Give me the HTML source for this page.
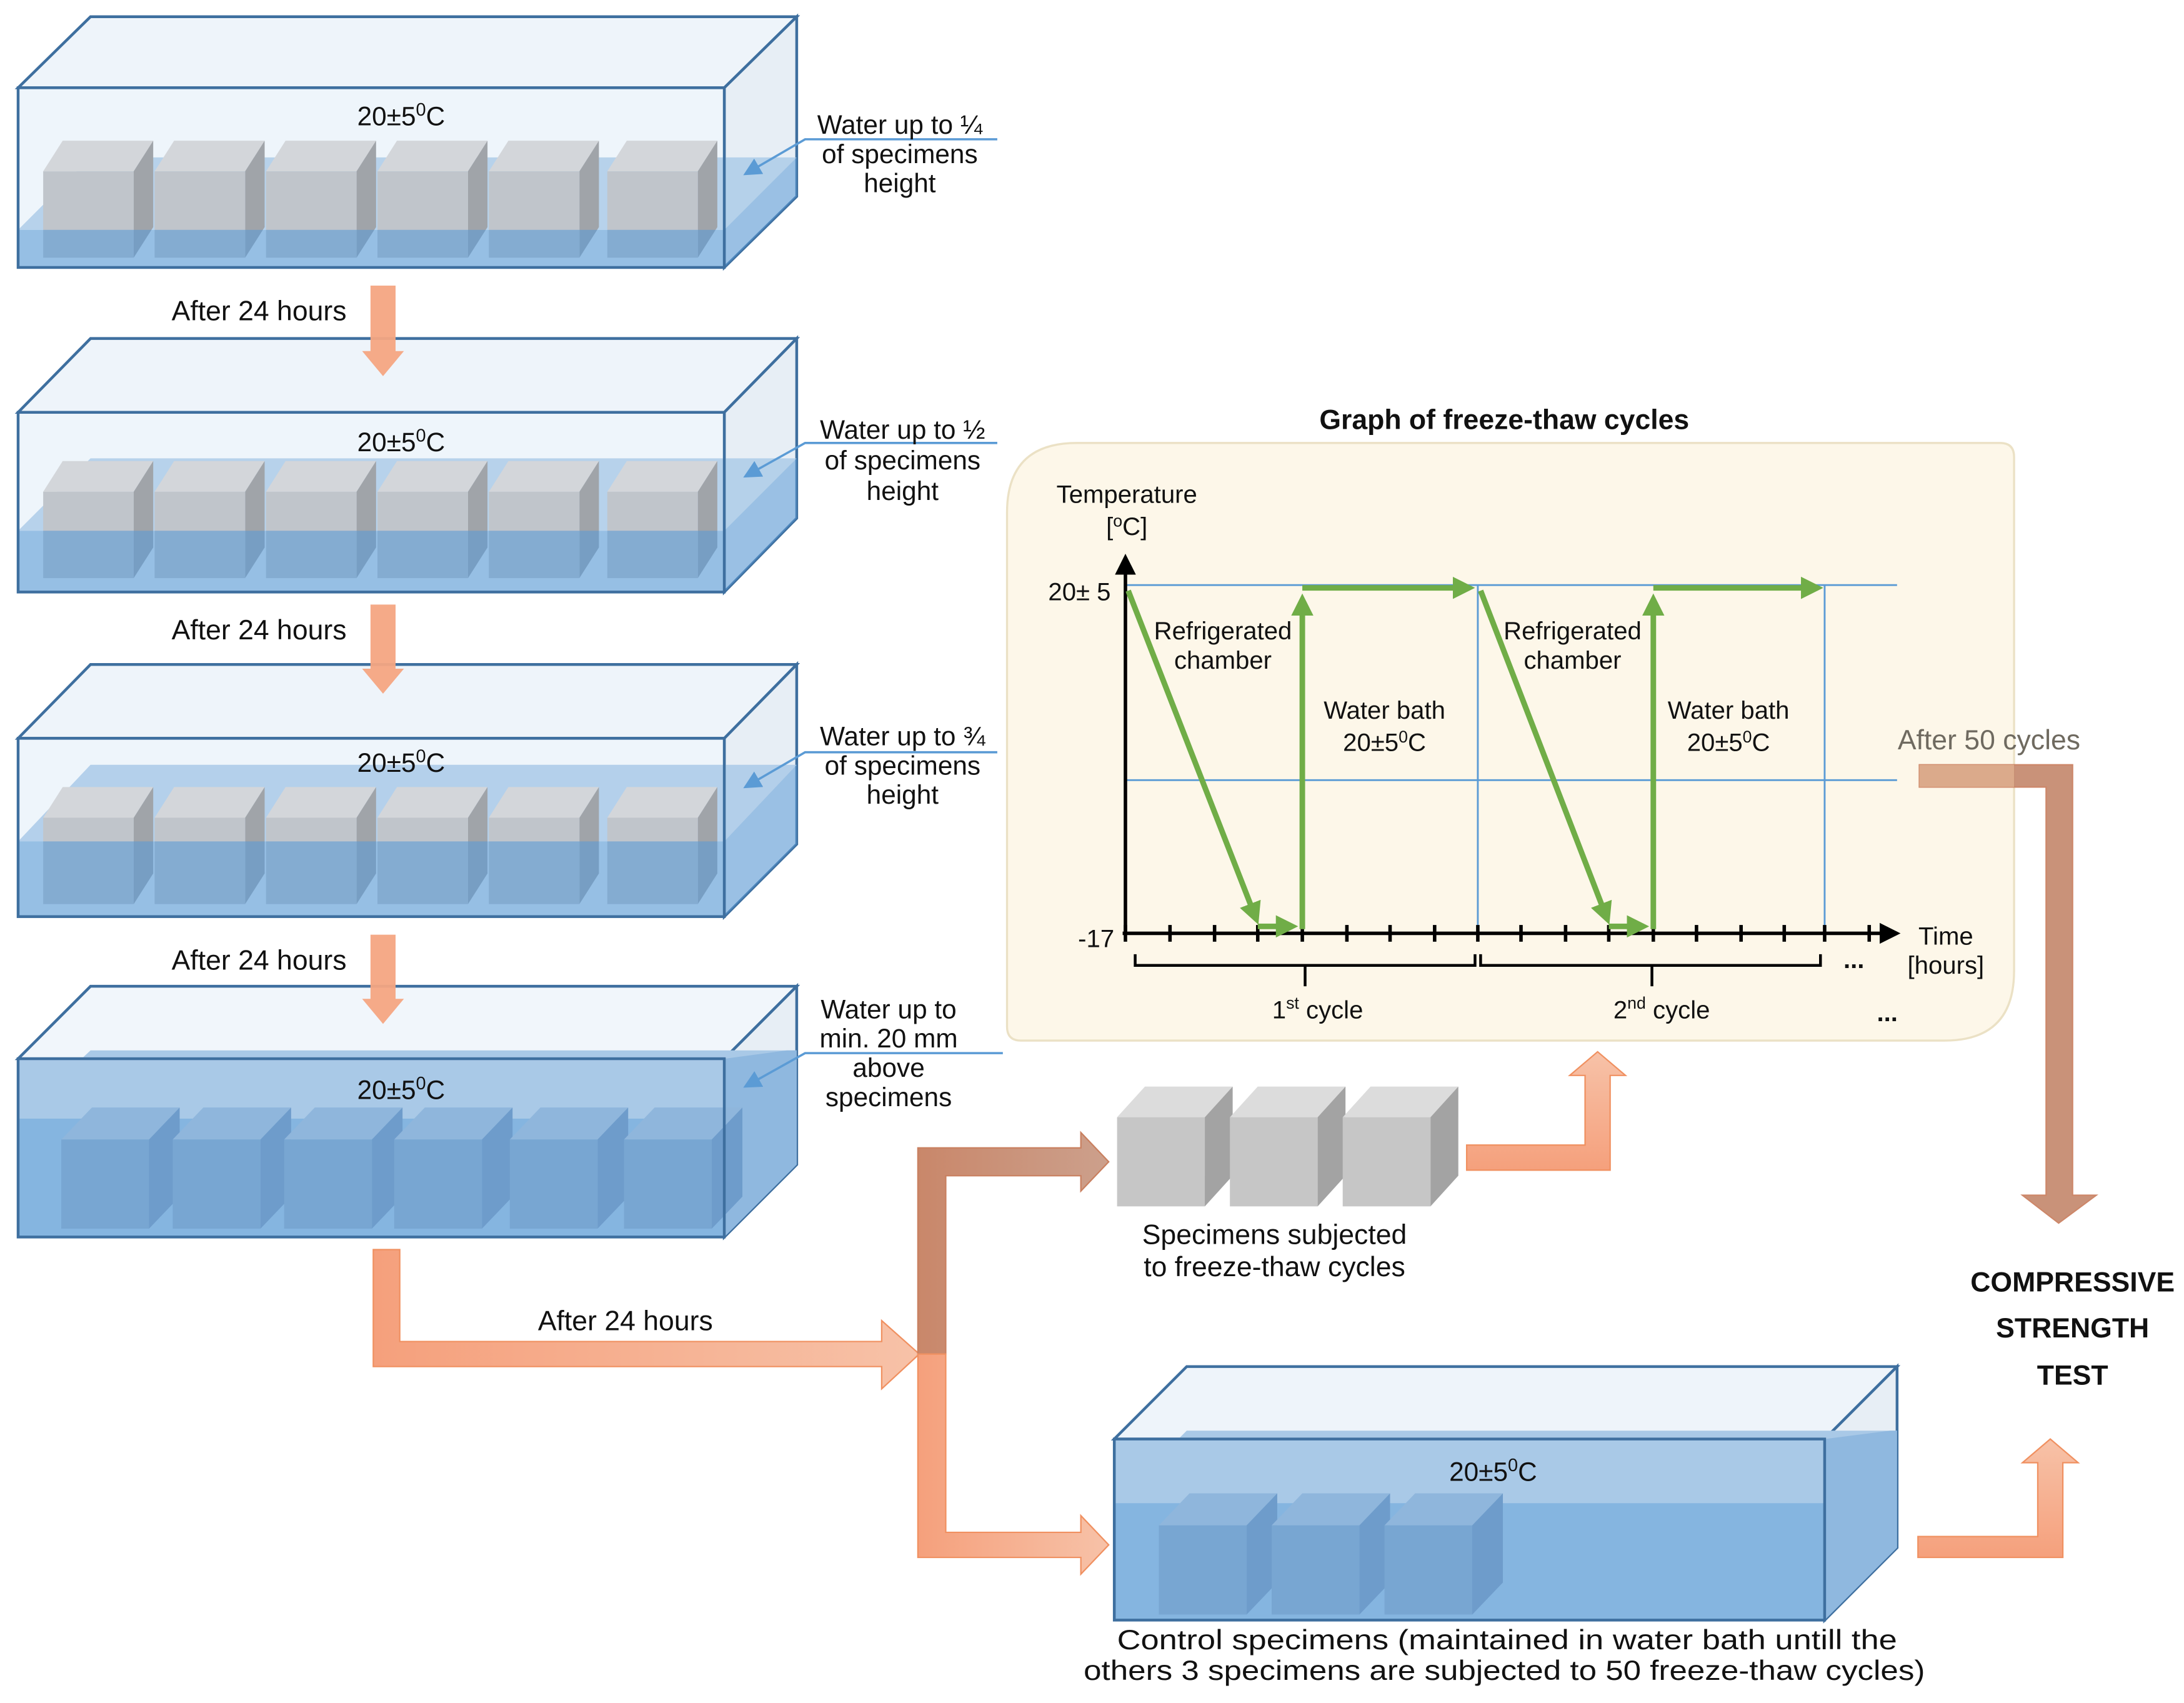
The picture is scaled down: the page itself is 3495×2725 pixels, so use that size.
<!DOCTYPE html>
<html><head><meta charset="utf-8"><style>
html,body{margin:0;padding:0;background:#fff;}
svg{display:block;}
text{font-family:"Liberation Sans",sans-serif;fill:#111;}
</style></head><body>
<svg width="3495" height="2725" viewBox="0 0 1568 1222.5" preserveAspectRatio="none" xmlns="http://www.w3.org/2000/svg">
<defs>
<g id="cube">
<polygon points="0,0 14,-22 79,-22 65,0" fill="#d3d6da"/>
<polygon points="65,0 79,-22 79,40 65,62" fill="#a0a4a9"/>
<rect x="0" y="0" width="65" height="62" fill="#c0c5cb"/>
</g>
<g id="gcube">
<polygon points="0,0 20,-22 83,-22 63,0" fill="#dcdcdc"/>
<polygon points="63,0 83,-22 83,42 63,64" fill="#a3a3a3"/>
<rect x="0" y="0" width="63" height="64" fill="#c6c6c6"/>
</g>
<g id="bcube">
<polygon points="0,0 22,-23 85,-23 63,0" fill="#8fb6dc"/>
<polygon points="63,0 85,-23 85,41 63,64" fill="#6e9ccb"/>
<rect x="0" y="0" width="63" height="64" fill="#78a6d2"/>
</g>
<linearGradient id="og" x1="0" y1="0" x2="1" y2="0"><stop offset="0" stop-color="#f5a07c"/><stop offset="1" stop-color="#f7c2a8"/></linearGradient>
<linearGradient id="ogv" x1="0" y1="1" x2="0" y2="0"><stop offset="0" stop-color="#f5a07c"/><stop offset="1" stop-color="#f7c2a8"/></linearGradient>
<linearGradient id="bg" x1="0" y1="0" x2="1" y2="0"><stop offset="0" stop-color="#c9876a"/><stop offset="1" stop-color="#cca08c"/></linearGradient>
<marker id="ga" markerWidth="4" markerHeight="4" refX="3" refY="2" orient="auto" markerUnits="strokeWidth"><path d="M0,0 L4,2 L0,4 Z" fill="#70ad47"/></marker>
<marker id="ka" markerWidth="6" markerHeight="6" refX="5" refY="3" orient="auto" markerUnits="strokeWidth"><path d="M0,0 L6,3 L0,6 Z" fill="#000"/></marker>
<marker id="la" markerWidth="8" markerHeight="8" refX="7" refY="4" orient="auto" markerUnits="strokeWidth"><path d="M0,0 L8,4 L0,8 Z" fill="#5b9bd5"/></marker>
</defs>

<!-- TANK 1 -->
<g>
<polygon points="13,63 65,12 572,12 520,63" fill="#eef4fa" stroke="#3e6f9f" stroke-width="2"/>
<polygon points="520,63 572,12 572,141 520,192" fill="#e7eef5" stroke="#3e6f9f" stroke-width="2"/>
<rect x="13" y="63" width="507" height="129" fill="#eef5fb"/>
<polygon points="13,165 65,113 572,113 520,165" fill="#a9c9e7" opacity="0.8"/>
<use href="#cube" x="31" y="123"/><use href="#cube" x="111" y="123"/><use href="#cube" x="191" y="123"/><use href="#cube" x="271" y="123"/><use href="#cube" x="351" y="123"/><use href="#cube" x="436" y="123"/>
<rect x="13" y="165" width="507" height="27" fill="#5b9bd5" opacity="0.6"/>
<polygon points="520,165 572,113 572,141 520,192" fill="#5b9bd5" opacity="0.55"/>
<rect x="13" y="63" width="507" height="129" fill="none" stroke="#3e6f9f" stroke-width="2"/>
<text x="288" y="90" font-size="19" text-anchor="middle">20±5<tspan font-size="13" dy="-7">0</tspan><tspan dy="7">C</tspan></text>
</g>
<!-- TANK 2 -->
<g>
<polygon points="13,296 65,243 572,243 520,296" fill="#eef4fa" stroke="#3e6f9f" stroke-width="2"/>
<polygon points="520,296 572,243 572,372 520,425" fill="#e7eef5" stroke="#3e6f9f" stroke-width="2"/>
<rect x="13" y="296" width="507" height="129" fill="#eef5fb"/>
<polygon points="13,381 65,329 572,329 520,381" fill="#a9c9e7" opacity="0.8"/>
<use href="#cube" x="31" y="353"/><use href="#cube" x="111" y="353"/><use href="#cube" x="191" y="353"/><use href="#cube" x="271" y="353"/><use href="#cube" x="351" y="353"/><use href="#cube" x="436" y="353"/>
<rect x="13" y="381" width="507" height="44" fill="#5b9bd5" opacity="0.6"/>
<polygon points="520,381 572,329 572,372 520,425" fill="#5b9bd5" opacity="0.55"/>
<rect x="13" y="296" width="507" height="129" fill="none" stroke="#3e6f9f" stroke-width="2"/>
<text x="288" y="324" font-size="19" text-anchor="middle">20±5<tspan font-size="13" dy="-7">0</tspan><tspan dy="7">C</tspan></text>
</g>
<!-- TANK 3 -->
<g>
<polygon points="13,530 65,477 572,477 520,530" fill="#eef4fa" stroke="#3e6f9f" stroke-width="2"/>
<polygon points="520,530 572,477 572,606 520,658" fill="#e7eef5" stroke="#3e6f9f" stroke-width="2"/>
<rect x="13" y="530" width="507" height="128" fill="#eef5fb"/>
<polygon points="13,604 65,549 572,549 520,604" fill="#a9c9e7" opacity="0.85"/>
<use href="#cube" x="31" y="587"/><use href="#cube" x="111" y="587"/><use href="#cube" x="191" y="587"/><use href="#cube" x="271" y="587"/><use href="#cube" x="351" y="587"/><use href="#cube" x="436" y="587"/>
<rect x="13" y="604" width="507" height="54" fill="#5b9bd5" opacity="0.6"/>
<polygon points="520,604 572,549 572,606 520,658" fill="#5b9bd5" opacity="0.55"/>
<rect x="13" y="530" width="507" height="128" fill="none" stroke="#3e6f9f" stroke-width="2"/>
<text x="288" y="554" font-size="19" text-anchor="middle">20±5<tspan font-size="13" dy="-7">0</tspan><tspan dy="7">C</tspan></text>
</g>
<!-- TANK 4 -->
<g>
<polygon points="13,760 65,708 572,708 520,760" fill="#f1f6fb" stroke="#3e6f9f" stroke-width="2"/>
<polygon points="520,760 572,708 572,836 520,888" fill="#e7eef5" stroke="#3e6f9f" stroke-width="2"/>
<rect x="13" y="760" width="507" height="128" fill="#eef5fb"/>
<polygon points="13,803 65,754 572,754 520,803" fill="#a9c9e7"/>
<rect x="13" y="760" width="507" height="43" fill="#a9c9e7"/>
<polygon points="520,760 565,754 572,754 572,836 520,888" fill="#8fb8df"/>
<rect x="13" y="803" width="507" height="85" fill="#85b5e0"/>
<use href="#bcube" x="44" y="818"/><use href="#bcube" x="124" y="818"/><use href="#bcube" x="204" y="818"/><use href="#bcube" x="283" y="818"/><use href="#bcube" x="366" y="818"/><use href="#bcube" x="448" y="818"/>
<rect x="13" y="760" width="507" height="128" fill="none" stroke="#3e6f9f" stroke-width="2"/>
<text x="288" y="789" font-size="19" text-anchor="middle">20±5<tspan font-size="13" dy="-7">0</tspan><tspan dy="7">C</tspan></text>
</g>

<!-- leader labels -->
<g stroke="#5b9bd5" stroke-width="1.6" fill="none">
<polyline points="716,100 578,100 535,125" marker-end="url(#la)"/>
<polyline points="716,318 578,318 535,342" marker-end="url(#la)"/>
<polyline points="716,540 578,540 535,565" marker-end="url(#la)"/>
<polyline points="720,756 578,756 535,780" marker-end="url(#la)"/>
</g>
<g font-size="19" text-anchor="middle">
<text x="646" y="96">Water up to ¼</text><text x="646" y="117">of specimens</text><text x="646" y="138">height</text>
<text x="648" y="315">Water up to ½</text><text x="648" y="337">of specimens</text><text x="648" y="359">height</text>
<text x="648" y="535">Water up to ¾</text><text x="648" y="556">of specimens</text><text x="648" y="577">height</text>
<text x="638" y="731">Water up to</text><text x="638" y="752">min. 20 mm</text><text x="638" y="773">above</text><text x="638" y="794">specimens</text>
<text x="186" y="230" font-size="20">After 24 hours</text>
<text x="186" y="459" font-size="20">After 24 hours</text>
<text x="186" y="696" font-size="20">After 24 hours</text>
<text x="449" y="955" font-size="20">After 24 hours</text>
</g>

<!-- down arrows -->
<g fill="#f4a582" opacity="0.95">
<polygon points="266,205 284,205 284,252 290,252 275,270 260,252 266,252"/>
<polygon points="266,434 284,434 284,480 290,480 275,498 260,480 266,480"/>
<polygon points="266,671 284,671 284,717 290,717 275,735 260,717 266,717"/>
</g>
<!-- big elbow arrow -->
<polygon points="268,897 287,897 287,963 633,963 633,948 660,972 633,997 633,981 268,981" fill="url(#og)" stroke="#f09060" stroke-width="1"/>
<!-- splitter -->
<polygon points="659,972 659,824 776,824 776,813 796,834 776,855 776,844 679,844 679,972" fill="url(#bg)" stroke="#c98060" stroke-width="1"/>
<polygon points="659,972 679,972 679,1100 776,1100 776,1088 796,1109 776,1130 776,1118 659,1118" fill="url(#og)" stroke="#f09060" stroke-width="1"/>
<!-- gray cubes -->
<use href="#gcube" x="802" y="802"/><use href="#gcube" x="883" y="802"/><use href="#gcube" x="964" y="802"/>
<g text-anchor="middle" font-size="20">
<text x="915" y="893">Specimens subjected</text>
<text x="915" y="916">to freeze-thaw cycles</text>
</g>
<!-- cubes to graph arrow -->
<polygon points="1053,822 1138,822 1138,772 1127,772 1147,755 1167,772 1156,772 1156,840 1053,840" fill="url(#ogv)" stroke="#f09060" stroke-width="1"/>

<!-- GRAPH PANEL -->
<path d="M773,318 L1436,318 Q1446,318 1446,328 L1446,697 Q1446,747 1396,747 L733,747 Q723,747 723,737 L723,368 Q723,318 773,318 Z" fill="#fdf7e9" stroke="#ebe1c5" stroke-width="1.5"/>
<text x="1080" y="308" font-size="20" font-weight="bold" text-anchor="middle">Graph of freeze-thaw cycles</text>
<g stroke="#5b9bd5" stroke-width="1.3">
<line x1="808" y1="420" x2="1362" y2="420"/>
<line x1="808" y1="560" x2="1362" y2="560"/>
<line x1="1061" y1="420" x2="1061" y2="670"/>
<line x1="1310" y1="420" x2="1310" y2="670"/>
</g>
<line x1="808" y1="671" x2="808" y2="400" stroke="#000" stroke-width="2.5" marker-end="url(#ka)"/>
<line x1="806" y1="670" x2="1362" y2="670" stroke="#000" stroke-width="2.5" marker-end="url(#ka)"/>
<g stroke="#000" stroke-width="2.5">
<line x1="808" y1="664" x2="808" y2="676"/><line x1="840" y1="664" x2="840" y2="676"/><line x1="872" y1="664" x2="872" y2="676"/><line x1="903" y1="664" x2="903" y2="676"/><line x1="935" y1="664" x2="935" y2="676"/><line x1="967" y1="664" x2="967" y2="676"/><line x1="998" y1="664" x2="998" y2="676"/><line x1="1030" y1="664" x2="1030" y2="676"/><line x1="1061" y1="664" x2="1061" y2="676"/><line x1="1092" y1="664" x2="1092" y2="676"/><line x1="1124" y1="664" x2="1124" y2="676"/><line x1="1155" y1="664" x2="1155" y2="676"/><line x1="1187" y1="664" x2="1187" y2="676"/><line x1="1218" y1="664" x2="1218" y2="676"/><line x1="1250" y1="664" x2="1250" y2="676"/><line x1="1281" y1="664" x2="1281" y2="676"/><line x1="1310" y1="664" x2="1310" y2="676"/><line x1="1342" y1="664" x2="1342" y2="676"/>
</g>
<g stroke="#000" stroke-width="2" fill="none">
<polyline points="815,685 815,693 1059,693 1059,685"/>
<polyline points="1063,685 1063,693 1307,693 1307,685"/>
<line x1="937" y1="693" x2="937" y2="708"/>
<line x1="1186" y1="693" x2="1186" y2="708"/>
</g>
<g stroke="#70ad47" stroke-width="4" fill="none">
<line x1="810" y1="424" x2="902" y2="660" marker-end="url(#ga)"/>
<line x1="903" y1="665" x2="928" y2="665" marker-end="url(#ga)"/>
<line x1="935" y1="667" x2="935" y2="430" marker-end="url(#ga)"/>
<line x1="935" y1="422" x2="1055" y2="422" marker-end="url(#ga)"/>
<line x1="1063" y1="424" x2="1154" y2="660" marker-end="url(#ga)"/>
<line x1="1155" y1="665" x2="1180" y2="665" marker-end="url(#ga)"/>
<line x1="1187" y1="667" x2="1187" y2="430" marker-end="url(#ga)"/>
<line x1="1187" y1="422" x2="1305" y2="422" marker-end="url(#ga)"/>
</g>
<g font-size="18" text-anchor="middle">
<text x="809" y="361">Temperature</text>
<text x="809" y="384">[<tspan font-size="12" dy="-6">o</tspan><tspan dy="6">C]</tspan></text>
<text x="775" y="431">20± 5</text>
<text x="787" y="680">-17</text>
<text x="878" y="459">Refrigerated</text><text x="878" y="480">chamber</text>
<text x="1129" y="459">Refrigerated</text><text x="1129" y="480">chamber</text>
<text x="994" y="516">Water bath</text><text x="994" y="539">20±5<tspan font-size="12" dy="-6">0</tspan><tspan dy="6">C</tspan></text>
<text x="1241" y="516">Water bath</text><text x="1241" y="539">20±5<tspan font-size="12" dy="-6">0</tspan><tspan dy="6">C</tspan></text>
<text x="1397" y="678">Time</text>
<text x="1397" y="699">[hours]</text>
<text x="946" y="731">1<tspan font-size="12" dy="-7">st</tspan><tspan dy="7"> cycle</tspan></text>
<text x="1193" y="731">2<tspan font-size="12" dy="-7">nd</tspan><tspan dy="7"> cycle</tspan></text>
<text x="1331" y="695" font-weight="bold">...</text>
<text x="1355" y="733" font-weight="bold">...</text>
</g>
<!-- After 50 cycles brown arrow -->
<text x="1428" y="538" font-size="20" text-anchor="middle" fill="#777" style="fill:#6f6a60">After 50 cycles</text>
<polygon points="1378,549 1488,549 1488,858 1505,858 1478,878 1452,858 1469,858 1469,565 1378,565" fill="#c5896e" opacity="0.92" stroke="#c97d5d" stroke-width="1"/>
<rect x="1378" y="549" width="68" height="16" fill="#e0b090" opacity="0.8"/>
<!-- COMPRESSIVE -->
<g font-size="20" font-weight="bold" text-anchor="middle">
<text x="1488" y="927">COMPRESSIVE</text>
<text x="1488" y="960">STRENGTH</text>
<text x="1488" y="994">TEST</text>
</g>

<!-- BOTTOM TANK -->
<g>
<polygon points="800,1033 852,981 1362,981 1310,1033" fill="#eef4fa" stroke="#3e6f9f" stroke-width="2"/>
<polygon points="1310,1033 1362,981 1362,1111 1310,1163" fill="#e7eef5" stroke="#3e6f9f" stroke-width="2"/>
<rect x="800" y="1033" width="510" height="130" fill="#eef5fb"/>
<polygon points="800,1079 852,1027 1362,1027 1310,1079" fill="#a9c9e7"/>
<rect x="800" y="1033" width="510" height="46" fill="#a9c9e7"/>
<polygon points="1310,1033 1357,1027 1362,1027 1362,1111 1310,1163" fill="#8fb8df"/>
<rect x="800" y="1079" width="510" height="84" fill="#85b5e0"/>
<use href="#bcube" x="832" y="1095"/><use href="#bcube" x="913" y="1095"/><use href="#bcube" x="994" y="1095"/>
<rect x="800" y="1033" width="510" height="130" fill="none" stroke="#3e6f9f" stroke-width="2"/>
<text x="1072" y="1063" font-size="19" text-anchor="middle">20±5<tspan font-size="13" dy="-7">0</tspan><tspan dy="7">C</tspan></text>
</g>
<g font-size="20" text-anchor="middle">
<text x="1082" y="1184" textLength="560" lengthAdjust="spacingAndGlyphs">Control specimens (maintained in water bath untill the</text>
<text x="1080" y="1206" textLength="604" lengthAdjust="spacingAndGlyphs">others 3 specimens are subjected to 50 freeze-thaw cycles)</text>
</g>
<!-- tank to test arrow -->
<polygon points="1377,1103 1463,1103 1463,1050 1452,1050 1472,1033 1492,1050 1481,1050 1481,1118 1377,1118" fill="url(#ogv)" stroke="#f09060" stroke-width="1"/>
</svg>
</body></html>
